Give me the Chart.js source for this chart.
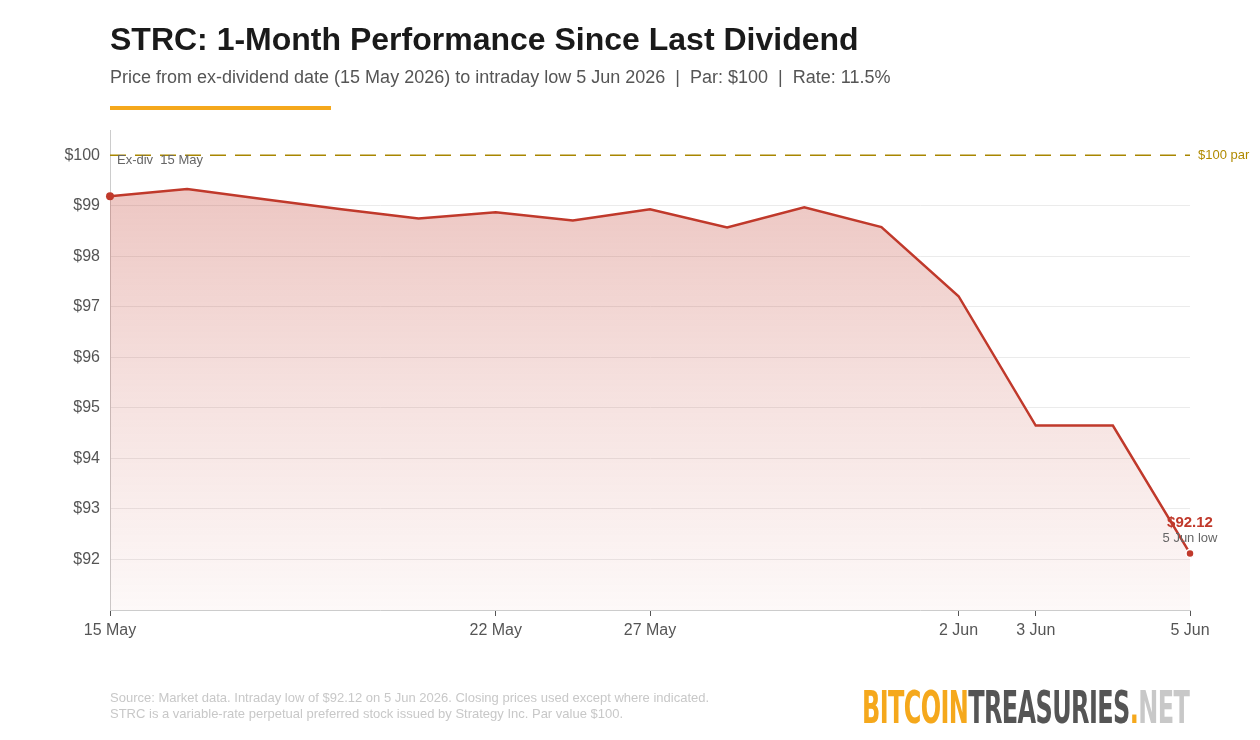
<!DOCTYPE html>
<html>
<head>
<meta charset="utf-8">
<script src="https://cdn.jsdelivr.net/npm/chart.js@4.4.1/dist/chart.umd.min.js"></script>
<style>
  html, body { margin: 0; padding: 0; background: #fff; }
  body { width: 1260px; height: 740px; position: relative; overflow: hidden; font-family: "Liberation Sans", Arial, sans-serif; }
  #chart { position: absolute; left: 0; top: 0; }
  .title { position: absolute; left: 110px; top: 21px; font-size: 32px; font-weight: bold; color: #1a1a1a; }
  .sub { position: absolute; left: 110px; top: 67px; font-size: 18px; color: #555; white-space: pre; }
  .bar { position: absolute; left: 110px; top: 106px; width: 221px; height: 4px; background: #f5a81c; }
  .foot { position: absolute; left: 110px; top: 690px; font-size: 13px; line-height: 16px; color: #c8c8c8; }
  .logo { position: absolute; left: 862px; top: 686px; font-family: "DejaVu Sans Condensed", "DejaVu Sans", sans-serif; font-weight: bold; font-size: 44px; line-height: 44px; letter-spacing: -1px; transform-origin: 0 0; white-space: nowrap; }
</style>
</head>
<body>
<canvas id="chart" width="1260" height="740"></canvas>
<div class="title">STRC: 1-Month Performance Since Last Dividend</div>
<div class="sub">Price from ex-dividend date (15 May 2026) to intraday low 5 Jun 2026  |  Par: $100  |  Rate: 11.5%</div>
<div class="bar"></div>
<div class="foot">Source: Market data. Intraday low of $92.12 on 5 Jun 2026. Closing prices used except where indicated.<br>STRC is a variable-rate perpetual preferred stock issued by Strategy Inc. Par value $100.</div>
<div class="logo" id="logo"><span style="color:#f5a81c">BITCOIN</span><span style="color:#555">TREASURIES</span><span style="color:#f5a81c">.</span><span style="color:#c8c8c8">NET</span></div>
<script>
var dates = ['15 May', '18 May', '19 May', '20 May', '21 May', '22 May', '26 May', '27 May',
  '28 May', '29 May', '1 Jun', '2 Jun', '3 Jun', '4 Jun', '5 Jun'];
var prices = [99.19, 99.33, 99.13, 98.93, 98.75, 98.87, 98.71, 98.93,
  98.57, 98.97, 98.58, 97.21, 94.65, 94.65, 92.12];
var shownDates = ['15 May', '22 May', '27 May', '2 Jun', '3 Jun', '5 Jun'];
var parValue = 100;

// squeeze logo to its width
var logo = document.getElementById('logo');
logo.style.transform = 'scale(' + (327 / logo.scrollWidth) + ',1)';

var red = '#c0392b';
var last = prices.length - 1;
var font = '"Liberation Sans", Arial, sans-serif';

var overlay = {
  id: 'overlay',
  beforeDatasetsDraw: function (chart) {
    var ctx = chart.ctx, x = chart.scales.x, y = chart.scales.y;
    var yp = y.getPixelForValue(parValue);
    ctx.save();
    ctx.strokeStyle = '#a88600';
    ctx.lineWidth = 1.4;
    ctx.setLineDash([16, 9]);
    ctx.beginPath();
    ctx.moveTo(chart.chartArea.left, yp);
    ctx.lineTo(chart.chartArea.right, yp);
    ctx.stroke();
    ctx.setLineDash([]);
    ctx.fillStyle = '#b08a00';
    ctx.font = '13px ' + font;
    ctx.textBaseline = 'middle';
    ctx.fillText('$100 par', chart.chartArea.right + 8, yp);
    ctx.fillStyle = '#666';
    ctx.fillText('Ex-div  15 May', x.getPixelForValue(0) + 7, yp + 5);
    ctx.restore();
  },
  afterDatasetsDraw: function (chart) {
    var ctx = chart.ctx, x = chart.scales.x, y = chart.scales.y;
    var px = x.getPixelForValue(last), py = y.getPixelForValue(prices[last]);
    ctx.save();
    ctx.textAlign = 'center';
    ctx.textBaseline = 'middle';
    ctx.fillStyle = red;
    ctx.font = 'bold 15px ' + font;
    ctx.fillText('$' + prices[last].toFixed(2), px, py - 31);
    ctx.fillStyle = '#666';
    ctx.font = '13px ' + font;
    ctx.fillText('5 Jun low', px, py - 15);
    ctx.restore();
  }
};

new Chart(document.getElementById('chart'), {
  type: 'line',
  data: {
    labels: dates,
    datasets: [{
      data: prices,
      borderColor: red,
      borderWidth: 2.5,
      tension: 0,
      fill: 'start',
      backgroundColor: function (c) {
        var area = c.chart.chartArea;
        if (!area) return 'rgba(192,57,43,0.2)';
        var g = c.chart.ctx.createLinearGradient(0, area.top + 50, 0, area.bottom);
        g.addColorStop(0, 'rgba(192,57,43,0.29)');
        g.addColorStop(0.5, 'rgba(192,57,43,0.15)');
        g.addColorStop(1, 'rgba(192,57,43,0.03)');
        return g;
      },
      pointRadius: function (c) { return (c.dataIndex === 0 || c.dataIndex === last) ? 4 : 0; },
      pointBackgroundColor: red,
      pointBorderColor: '#fff',
      pointBorderWidth: function (c) { return c.dataIndex === 0 ? 0 : 1.5; }
    }]
  },
  options: {
    responsive: false,
    animation: false,
    layout: { padding: { left: 0, top: 130, right: 70, bottom: 0 } },
    plugins: { legend: { display: false }, tooltip: { enabled: false } },
    scales: {
      x: {
        offset: false,
        afterFit: function (s) { s.height = 130; },
        border: { color: '#ccc', width: 1 },
        grid: {
          drawOnChartArea: false,
          tickLength: 6,
          tickColor: function (c) { return shownDates.indexOf(dates[c.index]) >= 0 ? '#555' : 'rgba(0,0,0,0)'; }
        },
        ticks: {
          autoSkip: false,
          maxRotation: 0,
          padding: 5,
          color: '#555',
          font: { size: 16, family: font },
          callback: function (v, i) { return shownDates.indexOf(dates[i]) >= 0 ? dates[i] : ''; }
        }
      },
      y: {
        min: 91,
        max: 100.5,
        afterFit: function (s) { s.width = 110; },
        border: { color: '#ccc', width: 1 },
        grid: {
          drawTicks: false,
          color: function (c) {
            var v = c.tick && c.tick.value;
            return (v > 91 && v < 100 && Number.isInteger(v)) ? '#ebebeb' : 'rgba(0,0,0,0)';
          }
        },
        ticks: {
          stepSize: 1,
          padding: 10,
          color: '#555',
          font: { size: 16, family: font },
          callback: function (v) { return (v > 91 && Number.isInteger(v)) ? '$' + v : ''; }
        }
      }
    }
  },
  plugins: [overlay]
});
</script>
</body>
</html>
